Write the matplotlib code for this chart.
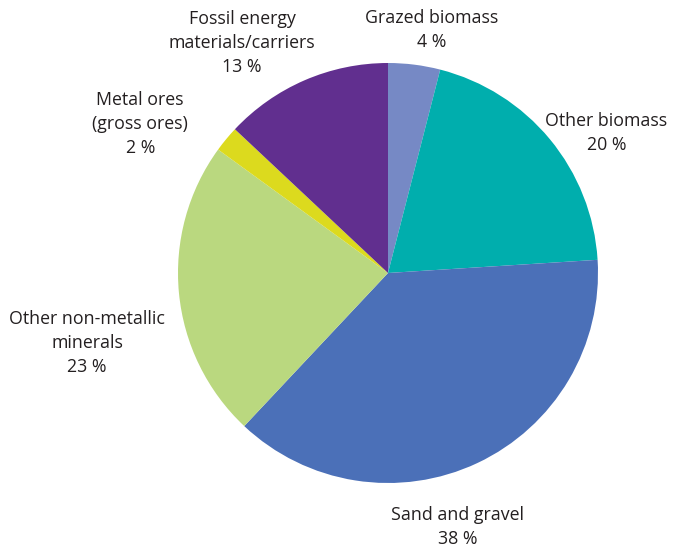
import matplotlib
matplotlib.use("Agg")
import matplotlib.pyplot as plt

categories = ["Grazed biomass", "Other biomass", "Sand and gravel",
              "Other non-metallic\nminerals", "Metal ores\n(gross ores)",
              "Fossil energy\nmaterials/carriers"]
shares = [4, 20, 38, 23, 2, 13]
colors = ["#7689C5", "#00AEAD", "#4B70B8", "#BAD87F", "#DCDA1E", "#612F8F"]

# label anchor points in pie units (radius = 1)
label_xy = [(0.21, 1.157), (1.04, 0.667), (0.33, -1.21),
            (-1.433, -0.333), (-1.18, 0.71), (-0.695, 1.095)]

plt.rcParams['font.family'] = ['Open Sans', 'DejaVu Sans']

fig = plt.figure(figsize=(6.83, 5.5), dpi=100)
ax = fig.add_axes([0, 0, 1, 1])
cx, cy, R = 388, 273, 210

wedges, _ = ax.pie(shares, colors=colors, startangle=90, counterclock=False,
                   radius=1.0, wedgeprops=dict(linewidth=0))
ax.set_xlim(-cx / R, (683 - cx) / R)
ax.set_ylim(-(550 - cy) / R, cy / R)
ax.set_aspect("equal")
ax.axis("off")

for cat, val, (x, y) in zip(categories, shares, label_xy):
    ax.text(x, y, f"{cat}\n{val} %", ha="center", va="center",
            fontsize=12.8, color="#231f20", linespacing=1.42)

fig.savefig("out.png", dpi=100)
